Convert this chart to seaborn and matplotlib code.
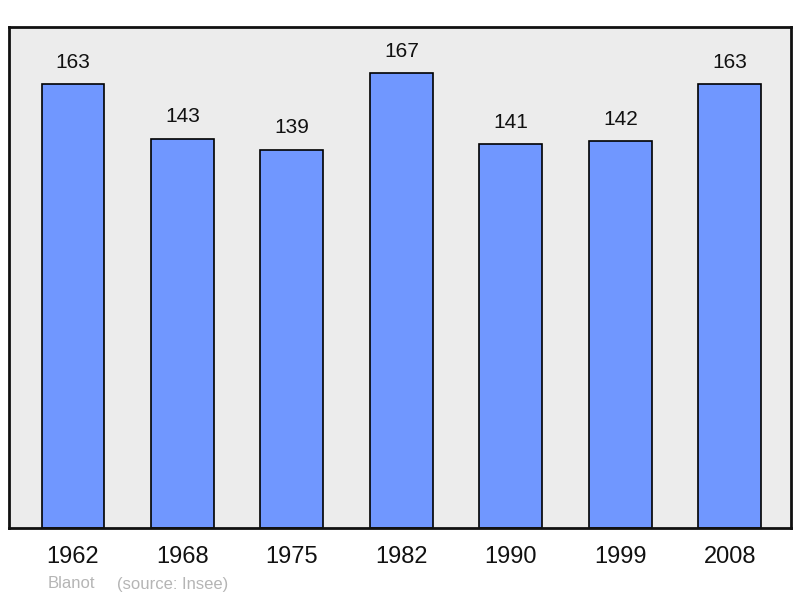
import matplotlib
matplotlib.use("Agg")
import matplotlib.pyplot as plt
import seaborn as sns
import pandas as pd

years = ["1962", "1968", "1975", "1982", "1990", "1999", "2008"]
population = [163, 143, 139, 167, 141, 142, 163]
commune = "Blanot"
source = "(source: Insee)"

sns.set_style("white")
plt.rcParams["font.family"] = ["Liberation Sans", "DejaVu Sans"]

df = pd.DataFrame({"year": years, "pop": population})

fig = plt.figure(figsize=(8, 5.98), dpi=100)
ax = fig.add_axes([9/800, 70/598, 782/800, 501/598])
ax.set_facecolor("#ececec")

sns.barplot(data=df, x="year", y="pop", ax=ax, color="#7097ff", width=0.575,
            edgecolor="black", linewidth=1.2, saturation=1)

for i, v in enumerate(population):
    ax.annotate(str(v), (i, v), xytext=(0, 9), textcoords="offset points",
                ha="center", va="bottom", fontsize=15, color="#111111")

ax.set_ylim(0, 184)
ax.set_xlim(-0.585, 6.56)
ax.set_xlabel("")
ax.set_ylabel("")
ax.set_yticks([])
ax.tick_params(axis="x", length=0, labelsize=17, pad=13, colors="#111111")
for s in ax.spines.values():
    s.set_visible(True)
    s.set_linewidth(2)
    s.set_color("#111111")

fig.text(48/800, 1 - 584/598, commune, fontsize=12, color="#b5b5b5", va="center", ha="left")
fig.text(117/800, 1 - 584/598, source, fontsize=12, color="#b5b5b5", va="center", ha="left")

fig.savefig("out.png", dpi=100, facecolor="white")
